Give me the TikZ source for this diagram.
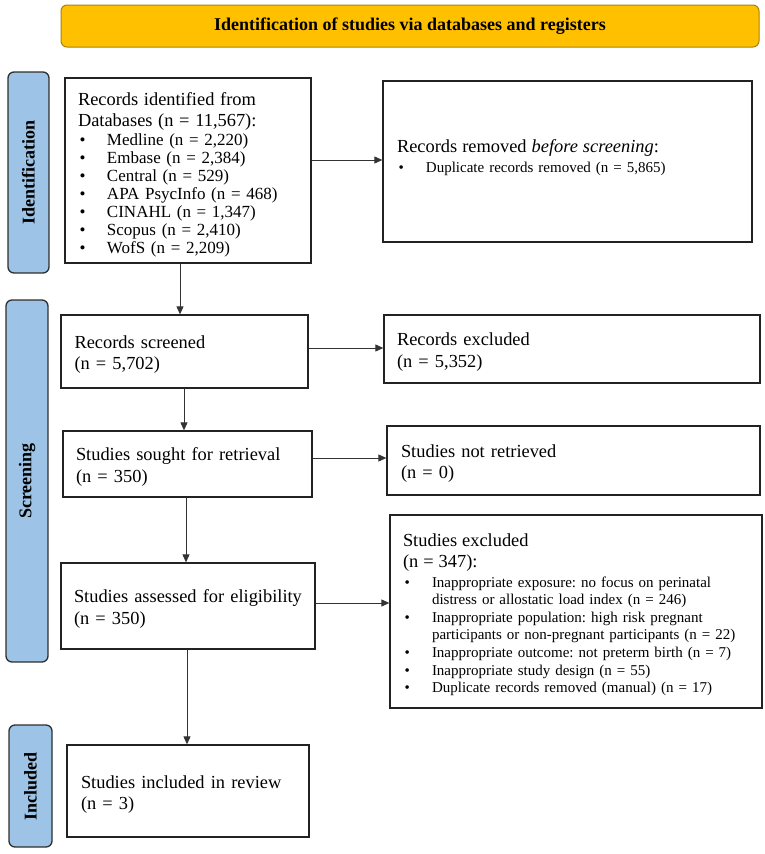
\documentclass[tikz,border=0pt]{standalone}
\usepackage{fontspec}
\setmainfont{Liberation Serif}
\usetikzlibrary{arrows.meta}
\definecolor{hdrfill}{HTML}{FFC000}
\definecolor{hdrline}{HTML}{A8820E}
\definecolor{sidefill}{HTML}{9DC3E6}
\definecolor{sideline}{HTML}{2F2F2F}
\definecolor{boxline}{HTML}{222222}
\definecolor{arrline}{HTML}{333333}
\newcommand{\bul}{\makebox[29pt][l]{\hspace{1.5pt}\textbullet}}
\newcommand{\bigtxt}{\fontsize{18.4}{21}\selectfont}
\newcommand{\upstrut}[1]{\rule{0pt}{#1}}
\tikzset{
  box/.style={draw=boxline, line width=1.3pt, fill=white, align=left, inner ysep=0pt, anchor=center},
  twoline/.style={box, font=\fontsize{18.4}{21.5}\selectfont},
  sidebox/.style={draw=sideline, line width=1.3pt, fill=sidefill, rounded corners=6pt, rotate=90,
     font=\fontsize{18}{20}\selectfont\bfseries, inner sep=0pt, anchor=center},
  hdrbox/.style={draw=hdrline, line width=1pt, fill=hdrfill, rounded corners=6pt,
     font=\fontsize{18}{20}\selectfont\bfseries, inner sep=0pt, anchor=center},
  arr/.style={draw=arrline, line width=0.9pt, -{Triangle[length=8pt,width=7pt]}}
}
\begin{document}
\frenchspacing
\begin{tikzpicture}[x=1pt,y=-1pt]
\useasboundingbox (0,0) rectangle (765,854);
% header
\node[hdrbox, minimum width=698pt, minimum height=42pt] (hdr) at (410,26)
  {Identification of studies via databases and registers};
% side labels
\node[sidebox, minimum width=201pt, minimum height=41pt] (sideid) at (28.5,172.5) {Identification};
\node[sidebox, minimum width=362pt, minimum height=42pt] (sidescr) at (27,481) {Screening};
\node[sidebox, minimum width=122pt, minimum height=43pt] (sideinc) at (30.5,786) {Included};
% boxes
\node[box, font=\fontsize{17}{18}\selectfont, minimum height=185pt, inner xsep=13pt, text width=220pt] (ident) at (188,170.5)
  {{\bigtxt\upstrut{22pt}Records identified from}\\[3pt]
   {\bigtxt Databases (n = 11,567):}\\[1.5pt]
   \bul Medline (n = 2,220)\\
   \bul Embase (n = 2,384)\\
   \bul Central (n = 529)\\
   \bul APA PsycInfo (n = 468)\\
   \bul CINAHL (n = 1,347)\\
   \bul Scopus (n = 2,410)\\
   \bul WofS (n = 2,209)};
\node[box, font=\fontsize{15}{20}\selectfont, minimum height=161pt, inner xsep=14pt, text width=341pt] (removed) at (567.5,161.5)
  {{\bigtxt Records removed \textit{before screening}:}\\
   \bul Duplicate records removed (n = 5,865)\rule[-11pt]{0pt}{1pt}};
\node[twoline, minimum height=73pt, inner xsep=13.5pt, text width=220pt] (screened) at (184.5,351.5)
  {\upstrut{19pt}Records screened\\ (n = 5,702)};
\node[twoline, minimum height=68pt, inner xsep=13pt, text width=350pt] (rexcl) at (572,349)
  {\upstrut{19pt}Records excluded\\ (n = 5,352)};
\node[twoline, minimum height=66pt, inner xsep=13pt, text width=223pt] (sought) at (187.5,464)
  {\upstrut{19pt}Studies sought for retrieval\\ (n = 350)};
\node[twoline, minimum height=69pt, inner xsep=14pt, text width=345pt] (notret) at (573.5,460.5)
  {\upstrut{19pt}Studies not retrieved\\ (n = 0)};
\node[twoline, minimum height=86pt, inner xsep=13pt, text width=228pt] (assessed) at (188,606)
  {\upstrut{19pt}Studies assessed for eligibility\\ (n = 350)};
\node[box, font=\fontsize{15}{17.6}\selectfont, minimum height=193pt, inner xsep=13pt, text width=346pt] (sexcl) at (576,611.5)
  {{\bigtxt\upstrut{19pt}Studies excluded}\\[3.4pt]
   {\bigtxt (n = 347):}\\[2.4pt]
   \bul Inappropriate exposure: no focus on perinatal\\
   \hspace*{29pt}distress or allostatic load index (n = 246)\\
   \bul Inappropriate population: high risk pregnant\\
   \hspace*{29pt}participants or non-pregnant participants (n = 22)\\
   \bul Inappropriate outcome: not preterm birth (n = 7)\\
   \bul Inappropriate study design (n = 55)\\
   \bul Duplicate records removed (manual) (n = 17)};
\node[twoline, minimum height=92pt, inner xsep=14pt, text width=214pt] (included) at (188,791)
  {\upstrut{20pt}Studies included in review\\ (n = 3)};
% horizontal connectors
\draw[arr] (ident.east |- 0,160) -- (removed.west |- 0,160);
\draw[arr] (screened.east |- 0,348) -- (rexcl.west |- 0,348);
\draw[arr] (sought.east |- 0,458) -- (notret.west |- 0,458);
\draw[arr] (assessed.east |- 0,603) -- (sexcl.west |- 0,603);
% vertical connectors
\draw[arr] (ident.south -| 180,0) -- (screened.north -| 180,0);
\draw[arr] (screened.south -| 184,0) -- (sought.north -| 184,0);
\draw[arr] (sought.south -| 186,0) -- (assessed.north -| 186,0);
\draw[arr] (assessed.south -| 187,0) -- (included.north -| 187,0);
\end{tikzpicture}
\end{document}
